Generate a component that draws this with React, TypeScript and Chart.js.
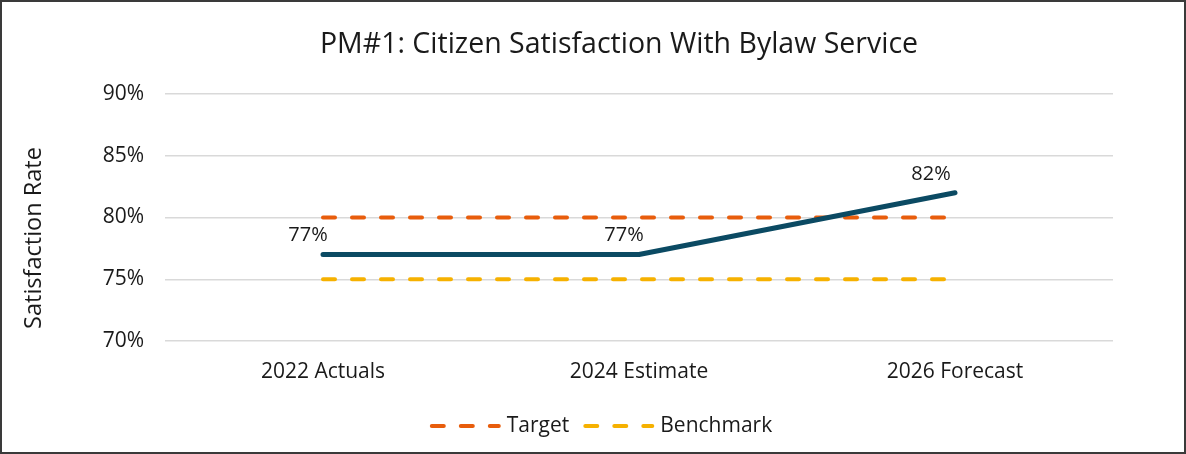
import React, { useEffect, useRef } from "react";
import { Chart, registerables } from "chart.js";

Chart.register(...registerables);

const categories = ["2022 Actuals", "2024 Estimate", "2026 Forecast"];
const actualValues = [77, 77, 82];
const targetValues = [80, 80, 80];
const benchmarkValues = [75, 75, 75];
const yTicks = [70, 75, 80, 85, 90];
const titleText = "PM#1: Citizen Satisfaction With Bylaw Service";
const yAxisTitle = "Satisfaction Rate";

const FONT = "'Open Sans', 'Noto Sans', sans-serif";
const TEXT = "#1a1a1a";

const dataLabelPlugin = {
  id: "dataLabels",
  afterDatasetsDraw(chart: any) {
    const ctx = chart.ctx;
    const meta = chart.getDatasetMeta(0);
    ctx.save();
    ctx.font = `20px ${FONT}`;
    ctx.fillStyle = TEXT;
    ctx.textAlign = "center";
    ctx.textBaseline = "middle";
    meta.data.forEach((pt: any, i: number) => {
      const dx = i === meta.data.length - 1 ? -24 : -15;
      ctx.fillText(`${actualValues[i]}%`, pt.x + dx, pt.y - 19);
    });
    ctx.restore();
  },
};

const titlePlugin = {
  id: "customTitle",
  afterDraw(chart: any) {
    const ctx = chart.ctx;
    ctx.save();
    ctx.font = `28.5px ${FONT}`;
    ctx.fillStyle = TEXT;
    ctx.textAlign = "center";
    ctx.textBaseline = "alphabetic";
    ctx.fillText(titleText, 617, 51);
    // y axis title
    ctx.font = `23.5px ${FONT}`;
    ctx.translate(32, 236);
    ctx.rotate(-Math.PI / 2);
    ctx.textBaseline = "middle";
    ctx.fillText(yAxisTitle, 0, 0);
    ctx.restore();
  },
};

const legendPlugin = {
  id: "customLegend",
  afterDraw(chart: any) {
    const ctx = chart.ctx;
    const items = chart.data.datasets.slice(1);
    const sample = 71;
    const gap = 6;
    const itemGap = 14;
    ctx.save();
    ctx.font = `21px ${FONT}`;
    const widths = items.map((d: any) => ctx.measureText(d.label).width);
    let total = 0;
    widths.forEach((w: number, i: number) => {
      total += sample + gap + w + (i > 0 ? itemGap : 0);
    });
    let x = 599 - total / 2;
    const y = 424;
    items.forEach((d: any, i: number) => {
      if (i > 0) x += itemGap;
      ctx.strokeStyle = d.borderColor;
      ctx.lineWidth = 4;
      ctx.lineCap = "round";
      ctx.setLineDash([12, 17]);
      ctx.beginPath();
      ctx.moveTo(x + 2, y);
      ctx.lineTo(x + sample - 2, y);
      ctx.stroke();
      ctx.setLineDash([]);
      x += sample + gap;
      ctx.fillStyle = TEXT;
      ctx.textAlign = "left";
      ctx.textBaseline = "middle";
      ctx.fillText(d.label, x, y);
      x += widths[i];
    });
    ctx.restore();
  },
};

export default function App() {
  const ref = useRef<HTMLCanvasElement | null>(null);
  useEffect(() => {
    document.body.style.margin = "0";
    const chart = new Chart(ref.current as HTMLCanvasElement, {
      type: "line",
      data: {
        labels: categories,
        datasets: [
          {
            label: "Actual",
            data: actualValues,
            borderColor: "#0B4A63",
            borderWidth: 5,
            borderCapStyle: "round",
            borderJoinStyle: "round",
            pointRadius: 0,
            order: 0,
          },
          {
            label: "Target",
            data: targetValues,
            borderColor: "#E85D0C",
            borderWidth: 4,
            borderDash: [12, 17],
            borderCapStyle: "round",
            pointRadius: 0,
            order: 1,
          },
          {
            label: "Benchmark",
            data: benchmarkValues,
            borderColor: "#F6B100",
            borderWidth: 4,
            borderDash: [12, 17],
            borderCapStyle: "round",
            pointRadius: 0,
            order: 2,
          },
        ],
      },
      options: {
        animation: false,
        responsive: false,
        layout: { padding: { left: 0, right: 71, top: 92, bottom: 0 } },
        plugins: {
          title: { display: false },
          legend: { display: false },
          tooltip: { enabled: false },
        },
        scales: {
          x: {
            offset: true,
            afterFit: (scale: any) => {
              scale.height = 111;
            },
            grid: { display: false, drawTicks: false },
            border: { display: false },
            ticks: { color: TEXT, font: { family: FONT, size: 21 }, padding: 18 },
          },
          y: {
            min: 70,
            max: 90,
            afterBuildTicks: (scale: any) => {
              scale.ticks = yTicks.map((v) => ({ value: v }));
            },
            afterFit: (scale: any) => {
              scale.width = 163;
            },
            grid: { color: "#d9d9d9", lineWidth: 1.5, drawTicks: false },
            border: { display: false },
            ticks: {
              color: TEXT,
              font: { family: FONT, size: 21 },
              padding: 21,
              callback: (v: any) => `${v}%`,
            },
          },
        },
      },
      plugins: [dataLabelPlugin, titlePlugin, legendPlugin],
    });
    return () => chart.destroy();
  }, []);
  return (
    <div
      style={{
        width: 1186,
        height: 454,
        boxSizing: "border-box",
        border: "2px solid #3a3a3a",
        background: "#fff",
      }}
    >
      <canvas ref={ref} width={1182} height={450} style={{ display: "block" }} />
    </div>
  );
}
